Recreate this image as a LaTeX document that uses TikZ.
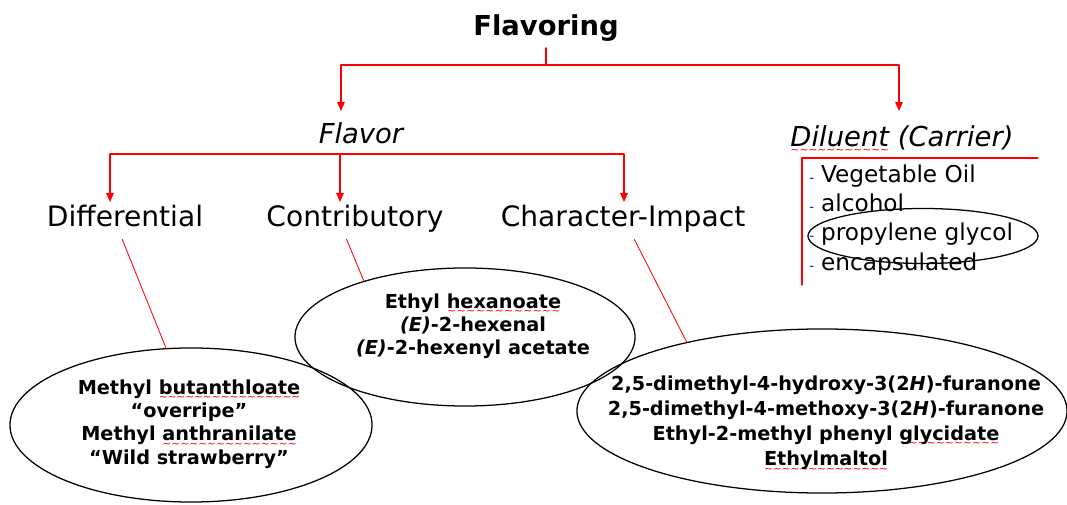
\documentclass[tikz,border=0pt]{standalone}
\usepackage{fontspec}
\setmainfont{DejaVu Sans}
\usetikzlibrary{arrows.meta,shapes.geometric}

% red wavy underline (spell check marks)
\newsavebox\spellbox
\newcommand\spellwave[1]{\sbox\spellbox{#1}%
  \rlap{\lower4.5pt\hbox to\wd\spellbox{\color{red}\fontsize{7.5}{7.5}\selectfont\mdseries\upshape\xleaders\hbox{\char"7E}\hfil}}%
  \usebox\spellbox}

\tikzset{
  link/.style={draw=red, line width=0.8pt},
  arrow/.style={link, -{Triangle[length=6.5pt,width=5.5pt]}},
  head/.style={font=\fontsize{19.5}{22}\selectfont\bfseries, anchor=base, inner sep=4pt},
  branch/.style={font=\fontsize{19.5}{22}\selectfont\itshape, anchor=base},
  kind/.style={font=\fontsize{20}{24}\selectfont, anchor=base, text depth=0pt, inner ysep=8.5pt},
  blob/.style={draw, ellipse, inner sep=0pt, line width=0.9pt},
  chem/.style={font=\bfseries, align=center, inner sep=0pt},
  item/.style={font=\fontsize{16.5}{20}\selectfont, anchor=base west, inner sep=0pt}
}

\begin{document}
\begin{tikzpicture}[x=0.025cm, y=-0.025cm, line cap=round, line join=round]
  \useasboundingbox (0,0) rectangle (1067,505);

  % ellipses
  \node[blob, minimum width=9.05cm, minimum height=3.85cm] (ellA) at (191,425) {};
  \node[blob, minimum width=8.5cm, minimum height=3.45cm] (ellB) at (465,337) {};
  \node[blob, minimum width=12.25cm, minimum height=4.1cm] (ellC) at (822,411) {};
  \node[blob, minimum width=5.75cm, minimum height=1.375cm] (pg) at (923,236) {};

  % titles
  \node[head] (flav) at (546,36) {Flavoring};
  \node[branch] (flavor) at (361,144) {Flavor};
  \node[branch] (dil) at (902,147) {\spellwave{Diluent} (Carrier)};

  \node[kind] (diff) at (125,227) {Differential};
  \node[kind] (contrib) at (355,227) {Contributory};
  \node[kind] (char) at (623,227) {Character-Impact};

  % contents of the ellipses
  \node[chem, font=\fontsize{13.7}{16.5}\selectfont\bfseries] (txtA) at (189,424)
    {Methyl \spellwave{butanthloate}\\“overripe”\\Methyl \spellwave{anthranilate}\\“Wild strawberry”};
  \node[chem, font=\fontsize{13.7}{16.5}\selectfont\bfseries] (txtB) at (473,326)
    {Ethyl \spellwave{hexanoate}\\\textit{(E)}-2-hexenal\\\textit{(E)}-2-hexenyl acetate};
  \node[chem, font=\fontsize{13.7}{17.8}\selectfont\bfseries] (txtC) at (826,424)
    {2,5-dimethyl-4-hydroxy-3(2\textit{H})-furanone\\2,5-dimethyl-4-methoxy-3(2\textit{H})-furanone\\Ethyl-2-methyl phenyl \spellwave{glycidate}\\\spellwave{Ethylmaltol}};

  % carrier list
  \foreach \t [count=\i] in {Vegetable Oil, alcohol, propylene glycol, encapsulated}
    \node[item] (dil-\i) at (809,153+29.3*\i)
      {{\color{blue}\fontsize{9.5}{9.5}\selectfont -}\hspace{5pt}\t};

  % connectors
  \coordinate (bar1) at (546,65);
  \coordinate (to-flavor) at (341,111);
  \coordinate (to-diluent) at (899,111);
  \coordinate (bar2) at (340,154);
  \coordinate (to-diff) at (110,202);
  \coordinate (to-contrib) at (340,202);
  \coordinate (to-char) at (624,202);
  \coordinate (box-top) at (802,158);
  \coordinate (box-end) at (1038,158);
  \coordinate (box-low) at (802,285);

  \draw[link] (flav.south) -- (bar1);
  \draw[arrow] (bar1) -| (to-flavor);
  \draw[arrow] (bar1) -| (to-diluent);
  \draw[link] (to-diff |- bar2) -- (to-char |- bar2);
  \foreach \t in {diff,contrib,char}
    \draw[arrow] (to-\t |- bar2) -- (to-\t);

  \draw[link, line width=0.6pt] ([xshift=-2pt]diff.south) -- (ellA.108);
  \draw[link, line width=0.6pt] ([xshift=-6pt]contrib.south) -- (ellB.151);
  \draw[link, line width=0.6pt] ([xshift=8pt]char.south) -- (ellC.153);

  \draw[link] (box-end) -- (box-top) -- (box-low);
\end{tikzpicture}
\end{document}
